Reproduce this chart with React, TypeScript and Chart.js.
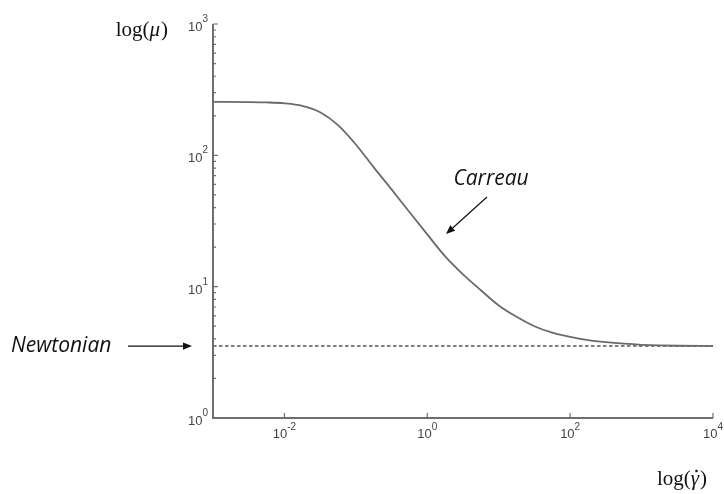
import React, { useEffect, useRef } from "react";
import { Chart, registerables } from "chart.js";

Chart.register(...registerables);

// Carreau curve (shear rate, viscosity)
const shearRate = [0.001, 0.00316, 0.00562, 0.01, 0.0178, 0.0316, 0.0562, 0.1, 0.178, 0.316, 0.562, 1, 1.78, 3.16, 5.62, 10, 17.8, 31.6, 56.2, 100, 178, 316, 562, 1000, 1780, 3160, 10000];
const viscosity = [255, 254.4, 253, 249, 238, 213, 170, 121, 81, 55, 37, 25, 17, 12.4, 9.4, 7.2, 5.9, 5.0, 4.46, 4.14, 3.92, 3.78, 3.68, 3.61, 3.57, 3.55, 3.53];
const newtonianLevel = 3.53;
const xRange = [0.001, 10000];
const yRange = [1, 1000];
const xTickExps = [-2, 0, 2, 4];
const yTickExps = [0, 1, 2, 3];
const yMinorMult = [2, 3, 4, 5, 6, 7, 8, 9];

function arrow(ctx: CanvasRenderingContext2D, x0: number, y0: number, x1: number, y1: number) {
  const ang = Math.atan2(y1 - y0, x1 - x0);
  const hl = 9, hw = 3.6;
  const bx = x1 - hl * Math.cos(ang), by = y1 - hl * Math.sin(ang);
  ctx.save();
  ctx.strokeStyle = "#111";
  ctx.fillStyle = "#111";
  ctx.lineWidth = 1.2;
  ctx.beginPath();
  ctx.moveTo(x0, y0);
  ctx.lineTo(bx, by);
  ctx.stroke();
  ctx.beginPath();
  ctx.moveTo(x1, y1);
  ctx.lineTo(bx + hw * Math.sin(ang), by - hw * Math.cos(ang));
  ctx.lineTo(bx - hw * Math.sin(ang), by + hw * Math.cos(ang));
  ctx.closePath();
  ctx.fill();
  ctx.restore();
}

const decorPlugin = {
  id: "decor",
  afterDraw(chart: any) {
    const ctx: CanvasRenderingContext2D = chart.ctx;
    const xs = chart.scales.x;
    const ys = chart.scales.y;
    const a = chart.chartArea;
    ctx.save();
    // axes
    ctx.strokeStyle = "#6e6e6e";
    ctx.lineWidth = 2;
    ctx.beginPath();
    ctx.moveTo(a.left, a.top);
    ctx.lineTo(a.left, a.bottom);
    ctx.lineTo(a.right, a.bottom);
    ctx.stroke();
    // ticks
    ctx.lineWidth = 1.2;
    ctx.beginPath();
    yTickExps.forEach((e) => {
      const py = ys.getPixelForValue(Math.pow(10, e));
      ctx.moveTo(a.left, py);
      ctx.lineTo(a.left + 5, py);
      if (e < yTickExps[yTickExps.length - 1]) {
        yMinorMult.forEach((m) => {
          const pm = ys.getPixelForValue(m * Math.pow(10, e));
          ctx.moveTo(a.left, pm);
          ctx.lineTo(a.left + 3, pm);
        });
      }
    });
    xTickExps.forEach((e) => {
      const px = xs.getPixelForValue(Math.pow(10, e));
      ctx.moveTo(px, a.bottom);
      ctx.lineTo(px, a.bottom - 5);
    });
    ctx.stroke();

    // tick labels
    ctx.fillStyle = "#444";
    const base = "13px 'Liberation Sans', Arial, sans-serif";
    const sup = "10px 'Liberation Sans', Arial, sans-serif";
    ctx.textBaseline = "alphabetic";
    ctx.textAlign = "left";
    yTickExps.forEach((e) => {
      const py = ys.getPixelForValue(Math.pow(10, e));
      const ex = String(e);
      ctx.font = sup;
      const ew = ctx.measureText(ex).width;
      ctx.font = base;
      const bw = ctx.measureText("10").width;
      const right = a.left - 5;
      ctx.fillText("10", right - ew - bw, py + 7);
      ctx.font = sup;
      ctx.fillText(ex, right - ew, py - 2);
    });
    xTickExps.forEach((e) => {
      const px = xs.getPixelForValue(Math.pow(10, e));
      const ex = String(e);
      ctx.font = sup;
      const ew = ctx.measureText(ex).width;
      ctx.font = base;
      const bw = ctx.measureText("10").width;
      const left = px - (bw + ew) / 2;
      ctx.fillText("10", left, a.bottom + 20);
      ctx.font = sup;
      ctx.fillText(ex, left + bw, a.bottom + 12);
    });

    // axis titles
    ctx.fillStyle = "#111";
    const serif = "'Liberation Serif', 'DejaVu Serif', serif";
    {
      ctx.font = `21px ${serif}`;
      const w1 = ctx.measureText("log(").width;
      ctx.font = `italic 21px ${serif}`;
      const w2 = ctx.measureText("μ").width;
      ctx.font = `21px ${serif}`;
      const w3 = ctx.measureText(")").width;
      const right = 167, by = 36;
      const x0 = right - w1 - w2 - w3;
      ctx.fillText("log(", x0, by);
      ctx.font = `italic 21px ${serif}`;
      ctx.fillText("μ", x0 + w1, by);
      ctx.font = `21px ${serif}`;
      ctx.fillText(")", x0 + w1 + w2 + 1, by);
    }
    {
      ctx.font = `21px ${serif}`;
      const w1 = ctx.measureText("log(").width;
      ctx.font = `italic 21px ${serif}`;
      const w2 = ctx.measureText("γ").width;
      const x0 = 657, by = 485;
      ctx.font = `21px ${serif}`;
      ctx.fillText("log(", x0, by);
      ctx.font = `italic 21px ${serif}`;
      ctx.fillText("γ", x0 + w1, by);
      ctx.beginPath();
      ctx.arc(x0 + w1 + w2 / 2 + 1.5, by - 14, 1.3, 0, Math.PI * 2);
      ctx.fill();
      ctx.font = `21px ${serif}`;
      ctx.fillText(")", x0 + w1 + w2 + 1, by);
    }

    // annotations
    const sans = "italic 21px 'Open Sans', 'Noto Sans', sans-serif";
    ctx.font = sans;
    ctx.textAlign = "left";
    ctx.textBaseline = "middle";
    const ny = ys.getPixelForValue(newtonianLevel);
    ctx.fillText("Newtonian", 11, ny);
    arrow(ctx, 128, ny, a.left - 21, ny);
    ctx.textAlign = "center";
    ctx.fillText("Carreau", 491, 179);
    arrow(ctx, 487, 197, 446, 234);
    ctx.restore();
  },
};

export default function App() {
  const ref = useRef<HTMLCanvasElement | null>(null);
  useEffect(() => {
    if (!ref.current) return;
    const chart = new Chart(ref.current, {
      type: "line",
      data: {
        datasets: [
          {
            label: "Carreau",
            data: shearRate.map((x, i) => ({ x, y: viscosity[i] })),
            borderColor: "#6a6a6a",
            borderWidth: 1.8,
            pointRadius: 0,
            cubicInterpolationMode: "monotone",
            fill: false,
          },
          {
            label: "Newtonian",
            data: xRange.map((x) => ({ x, y: newtonianLevel })),
            borderColor: "#555",
            borderWidth: 1.4,
            borderDash: [3.5, 2.5],
            pointRadius: 0,
            fill: false,
          },
        ],
      },
      options: {
        animation: false,
        responsive: false,
        maintainAspectRatio: false,
        layout: { padding: { left: 213, right: 11, top: 24, bottom: 76 } },
        plugins: { legend: { display: false }, tooltip: { enabled: false } },
        scales: {
          x: { type: "logarithmic", min: xRange[0], max: xRange[1], display: false },
          y: { type: "logarithmic", min: yRange[0], max: yRange[1], display: false },
        },
      },
      plugins: [decorPlugin],
    });
    return () => chart.destroy();
  }, []);
  return (
    <div style={{ position: "fixed", left: 0, top: 0, width: 724, height: 494, background: "#fff" }}>
      <canvas ref={ref} width={724} height={494} style={{ display: "block" }} />
    </div>
  );
}
